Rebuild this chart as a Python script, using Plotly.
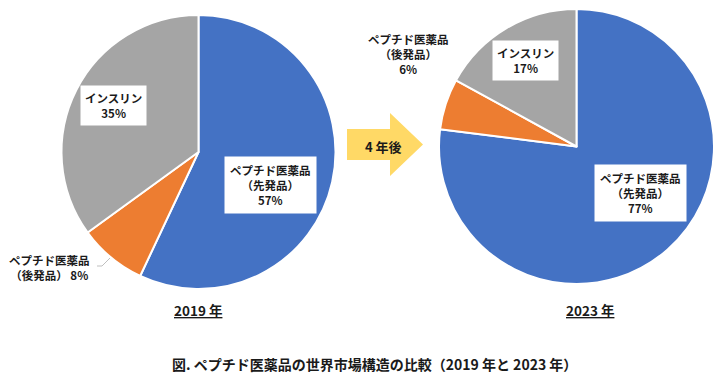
import plotly.graph_objects as go

# ---- data ----
categories = ["ペプチド医薬品（先発品）", "ペプチド医薬品（後発品）", "インスリン"]
values_2019 = [57, 8, 35]
values_2023 = [77, 6, 17]
year_labels = ["2019 年", "2023 年"]
arrow_label = "4 年後"
caption = "図. ペプチド医薬品の世界市場構造の比較（2019 年と 2023 年）"

colors = ["#4472C4", "#ED7D31", "#A5A5A5"]
OFF = 8  # browser body margin
W, H = 725 - OFF, 379 - OFF
FONT = "Noto Sans CJK JP"


def px(x):
    return (x - OFF) / W


def py(y):
    return 1 - (y - OFF) / H


fig = go.Figure()

# pie 1 (2019): centre (198.5,152) r=137
fig.add_trace(go.Pie(
    labels=categories, values=values_2019, sort=False, direction="clockwise",
    rotation=0, marker=dict(colors=colors, line=dict(color="white", width=2)),
    textinfo="none", hoverinfo="label+percent", showlegend=False,
    domain=dict(x=[px(61.5), px(335.5)], y=[py(289), py(15)]),
))
# pie 2 (2023): centre (576.5,146.5) r=137.5
fig.add_trace(go.Pie(
    labels=categories, values=values_2023, sort=False, direction="clockwise",
    rotation=0, marker=dict(colors=colors, line=dict(color="white", width=2)),
    textinfo="none", hoverinfo="label+percent", showlegend=False,
    domain=dict(x=[px(439), px(714)], y=[py(284), py(9)]),
))


def name_lines(cat):
    base, paren = cat.split("（")
    return base, "（" + paren


anns = []
TXT = "#1a1a1a"


def box_label(x, y, text, pad=5):
    anns.append(dict(x=px(x), y=py(y), xref="paper", yref="paper", text=text,
                     showarrow=False, bgcolor="white", borderpad=pad,
                     font=dict(family=FONT, size=11.5, color=TXT),
                     xanchor="center", yanchor="middle", align="center"))


def plain_label(x, y, text, align="center"):
    anns.append(dict(x=px(x), y=py(y), xref="paper", yref="paper", text=text,
                     showarrow=False,
                     font=dict(family=FONT, size=11.5, color=TXT),
                     xanchor="center", yanchor="middle", align=align))


b0, b1 = name_lines(categories[0])
o0, o1 = name_lines(categories[1])
ins = categories[2]

# 2019 labels
box_label(270, 185, f"<b>{b0}<br>{b1}<br>{values_2019[0]}%</b>", pad=5)
box_label(113, 106, f"<b>{ins}<br>{values_2019[2]}%</b>", pad=4)
plain_label(49, 267, f"<b>{o0}<br>{o1} {values_2019[1]}%</b>")
# 2023 labels
box_label(640, 193, f"<b>{b0}<br>{b1}<br>{values_2023[0]}%</b>", pad=5)
box_label(525, 61, f"<b>{ins}<br>{values_2023[2]}%</b>", pad=4)
plain_label(408, 54, f"<b>{o0}<br>{o1}<br>{values_2023[1]}%</b>")

# year labels
for xc, t in [(198, year_labels[0]), (590, year_labels[1])]:
    anns.append(dict(x=px(xc), y=py(310), xref="paper", yref="paper",
                     text=f"<b><u>{t}</u></b>", showarrow=False,
                     font=dict(family=FONT, size=13.5, color=TXT),
                     xanchor="center", yanchor="middle"))

# arrow text
anns.append(dict(x=px(383), y=py(146), xref="paper", yref="paper",
                 text=f"<b>{arrow_label}</b>", showarrow=False,
                 font=dict(family=FONT, size=13, color=TXT),
                 xanchor="center", yanchor="middle"))

# caption
anns.append(dict(x=px(375), y=py(364), xref="paper", yref="paper",
                 text=f"<b>{caption}</b>", showarrow=False,
                 font=dict(family=FONT, size=14, color=TXT),
                 xanchor="center", yanchor="middle"))

# arrow shape
pts = [(347, 129), (390, 129), (390, 113), (423, 144.5), (390, 176), (390, 160), (347, 160)]
path = "M " + " L ".join(f"{px(x)},{py(y)}" for x, y in pts) + " Z"
shapes = [dict(type="path", path=path, xref="paper", yref="paper",
               fillcolor="#FFD966", line=dict(width=0), layer="below")]
# leader line for 2019 generic label
lpts = [(97, 266), (102, 266), (110, 258)]
lpath = "M " + " L ".join(f"{px(x)},{py(y)}" for x, y in lpts)
shapes.append(dict(type="path", path=lpath, xref="paper", yref="paper",
                   line=dict(color="#BFBFBF", width=1)))

fig.update_layout(
    width=W, height=H, autosize=False,
    margin=dict(l=0, r=0, t=0, b=0),
    paper_bgcolor="white", plot_bgcolor="white",
    annotations=anns, shapes=shapes,
    font=dict(family=FONT),
)

fig.write_html("out.html")
